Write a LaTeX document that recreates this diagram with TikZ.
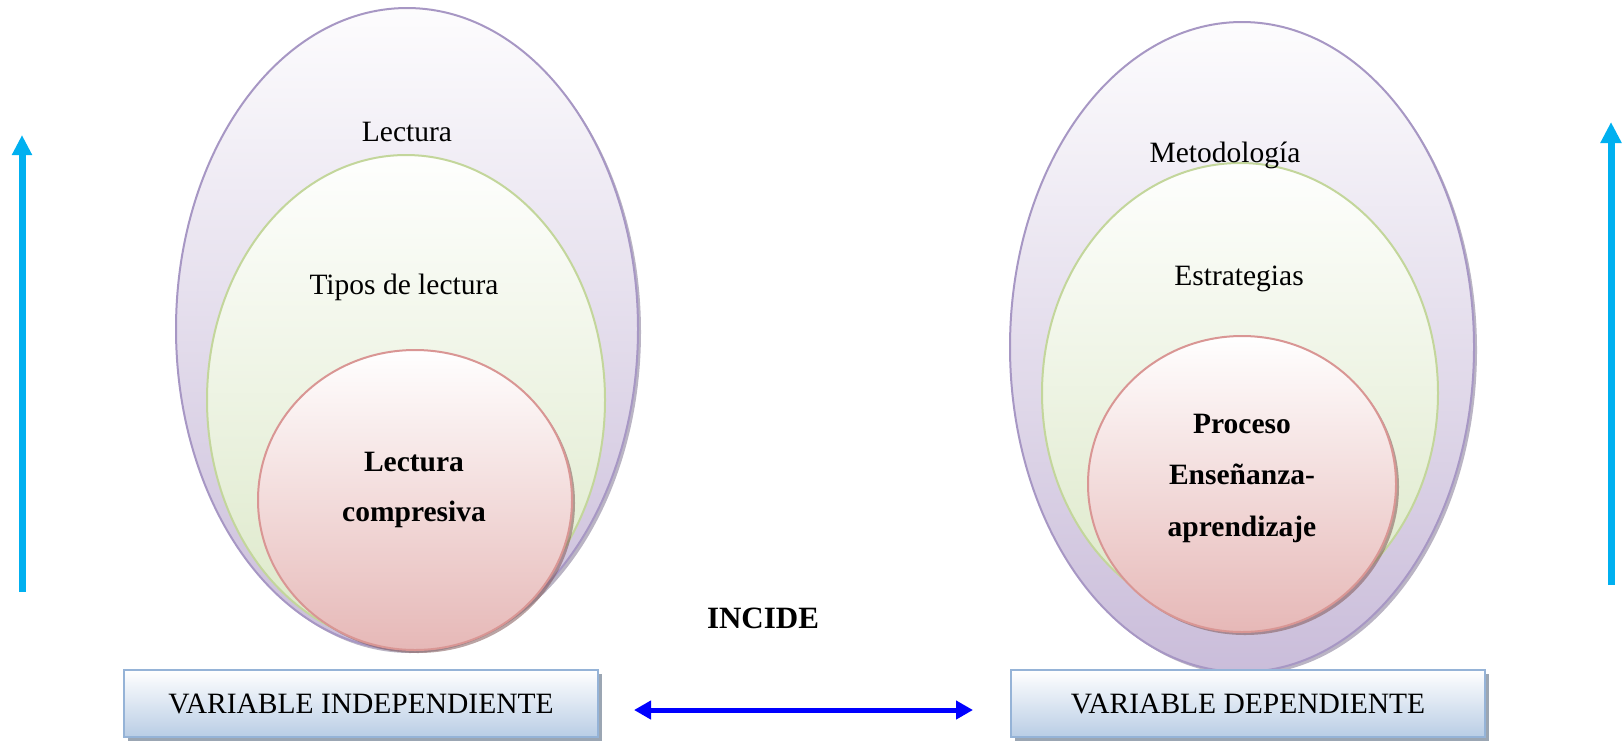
\documentclass[tikz,border=0pt]{standalone}
\usepackage{fontspec}
\setmainfont{Liberation Serif}
\usetikzlibrary{shapes.geometric,shadows,arrows.meta}

\definecolor{lilaborde}{HTML}{A797C4}
\definecolor{lilafondo}{HTML}{CABDDA}
\definecolor{verdeborde}{HTML}{C3D69B}
\definecolor{verdefondo}{HTML}{DCE8C8}
\definecolor{rojoborde}{HTML}{D99694}
\definecolor{rojofondo}{HTML}{E6B8B7}
\definecolor{cajaborde}{HTML}{95B3D7}
\definecolor{cajafondo}{HTML}{B9CDE5}
\definecolor{celeste}{HTML}{00B0F0}

\begin{document}
\begin{tikzpicture}[x=1pt,y=-1pt,font=\fontsize{29.5}{51}\selectfont,
    capa/.style={ellipse,inner sep=0pt,line width=2pt},
    externa/.style={capa,draw=lilaborde,top color=white!96!lilafondo,bottom color=lilafondo,
        drop shadow={shadow xshift=3pt,shadow yshift=-3pt,fill=lilaborde!70!black,opacity=.5}},
    media/.style={capa,draw=verdeborde,top color=white!97!verdefondo,bottom color=verdefondo},
    interna/.style={capa,draw=rojoborde,top color=white,bottom color=rojofondo,
        drop shadow={shadow xshift=3pt,shadow yshift=-3pt,fill=rojoborde!60!black,opacity=.55}},
    caja/.style={rectangle,draw=cajaborde,line width=2pt,top color=white,bottom color=cajafondo,
        minimum width=474pt,minimum height=67pt,
        drop shadow={shadow xshift=4pt,shadow yshift=-4pt,fill=cajaborde!60!black,opacity=.6}}]
    \useasboundingbox (0,0) rectangle (1622,740);

    % variable independiente
    \node[externa,minimum width=462pt,minimum height=642pt] (lect) at (407,329) {};
    \node[media,minimum width=398pt,minimum height=490pt] (tipos) at (406,400) {};
    \node[interna,minimum width=314pt,minimum height=300pt] (lcomp) at (415,500) {};
    \node (tlect) at (407,132) {Lectura};
    \node (ttipos) at (404,287) {Tipos de lectura};
    \node[align=center,font=\fontsize{29.5}{50}\selectfont\bfseries] (tlcomp) at (414,490) {Lectura\\compresiva};

    % variable dependiente
    \node[externa,minimum width=464pt,minimum height=650pt] (metod) at (1242,347) {};
    \node[media,minimum width=396pt,minimum height=460pt] (estrat) at (1240,393) {};
    \node[interna,minimum width=308pt,minimum height=296pt] (proceso) at (1242,484) {};
    \node (tmetod) at (1225,155) {Metodología};
    \node (testrat) at (1239,279) {Estrategias};
    \node[align=center,font=\fontsize{29.5}{51.5}\selectfont\bfseries] (tproceso) at (1242,478) {Proceso\\Enseñanza-\\aprendizaje};

    \node[caja] (indep) at (361,703.5) {VARIABLE INDEPENDIENTE};
    \node[caja] (dep) at (1248,703.5) {VARIABLE DEPENDIENTE};
    \node[font=\fontsize{31}{36}\selectfont\bfseries] (incide) at (763,618) {INCIDE};

    \draw[blue,line width=5pt,{Triangle[width=18pt,length=17pt]}-{Triangle[width=18pt,length=17pt]},
        shorten <=35pt,shorten >=37pt] ([yshift=-6.5pt]indep.east) -- ([yshift=-6.5pt]dep.west);

    \coordinate (izqa) at (22,592);
    \coordinate (izqb) at (22,135);
    \coordinate (dera) at (1611,585);
    \coordinate (derb) at (1611,122);
    \draw[celeste,line width=7pt,-{Triangle[width=19pt,length=20pt]}] (izqa) -- (izqb);
    \draw[celeste,line width=7pt,-{Triangle[width=20pt,length=21pt]}] (dera) -- (derb);
\end{tikzpicture}
\end{document}
